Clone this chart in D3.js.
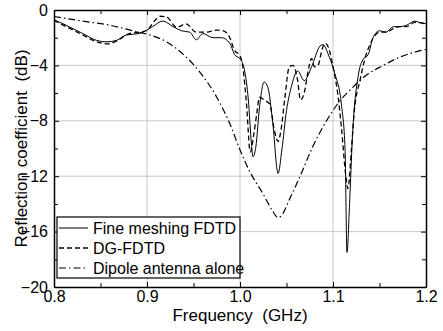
<!DOCTYPE html>
<html>
<head>
<meta charset="utf-8">
<script src="https://cdn.jsdelivr.net/npm/d3@7"></script>
<style>
  body { margin: 0; background: #fff; }
  text { font-family: Arial, "Liberation Sans", sans-serif; fill: #000; }
</style>
</head>
<body>
<div id="chart"></div>
<script>
// frequency (GHz) / reflection coefficient (dB)
const fineFreq = [0.8,0.813,0.831,0.846,0.856,0.867,0.878,0.892,0.906,0.917,0.928,0.937,0.946,0.953,0.960,0.971,0.980,0.989,0.994,1.001,1.005,1.009,1.012,1.014,1.017,1.021,1.026,1.030,1.035,1.041,1.045,1.050,1.055,1.062,1.069,1.077,1.086,1.089,1.096,1.102,1.109,1.113,1.115,1.118,1.121,1.127,1.132,1.138,1.143,1.150,1.157,1.165,1.172,1.179,1.188,1.193,1.2];
const fineDb = [-0.7,-1.1,-1.7,-2.2,-2.3,-2.2,-1.8,-1.7,-1.2,-0.8,-1.2,-1.5,-1.6,-2.15,-1.7,-2.0,-2.0,-2.4,-3.2,-3.6,-4.4,-6.5,-9.4,-10.6,-9.9,-7.0,-5.2,-5.6,-8.0,-11.8,-10.1,-7.25,-5.6,-4.4,-5.1,-4.1,-2.6,-2.5,-3.4,-4.6,-6.8,-10.1,-17.5,-13.7,-9.0,-4.8,-3.6,-3.2,-2.0,-1.5,-1.6,-1.2,-1.2,-1.1,-0.8,-0.9,-1.0];

const dgFreq = [0.8,0.813,0.831,0.846,0.858,0.867,0.881,0.892,0.899,0.910,0.914,0.921,0.932,0.942,0.953,0.964,0.975,0.982,0.989,0.994,1.000,1.003,1.007,1.011,1.015,1.018,1.021,1.026,1.032,1.037,1.041,1.044,1.048,1.053,1.057,1.062,1.065,1.069,1.073,1.077,1.080,1.084,1.087,1.091,1.094,1.096,1.100,1.105,1.109,1.114,1.116,1.120,1.123,1.129,1.134,1.140,1.145,1.150,1.157,1.165,1.172,1.179,1.188,1.2];
const dgDb = [-0.75,-1.2,-1.8,-2.3,-2.45,-2.25,-1.7,-1.6,-1.5,-0.65,-0.45,-0.5,-1.25,-1.0,-1.6,-1.6,-1.45,-1.5,-2.0,-2.9,-3.3,-4.1,-6.8,-10.25,-8.9,-7.5,-6.3,-6.5,-6.8,-8.7,-9.5,-8.7,-6.5,-4.1,-4.0,-5.1,-6.5,-6.0,-4.5,-3.5,-4.1,-4.0,-3.2,-2.4,-2.55,-2.9,-4.1,-6.0,-8.45,-12.1,-12.9,-9.9,-7.25,-5.1,-3.6,-2.45,-1.85,-1.6,-1.6,-1.35,-1.2,-1.2,-0.9,-1.0];

const dipoleFreq = [0.8,0.831,0.86,0.885,0.903,0.921,0.939,0.957,0.975,0.989,1.0,1.010,1.025,1.035,1.041,1.046,1.053,1.064,1.078,1.093,1.107,1.121,1.136,1.154,1.172,1.190,1.2];
const dipoleDb = [-0.47,-0.8,-1.1,-1.5,-1.8,-2.3,-3.2,-4.5,-6.3,-8.2,-10.1,-11.6,-13.3,-14.5,-15.0,-14.7,-13.7,-12.1,-9.9,-8.0,-6.6,-5.6,-4.7,-4.0,-3.4,-3.0,-2.85];

const xTicks = [0.8, 0.9, 1.0, 1.1, 1.2];
const xTickLabels = ["0.8", "0.9", "1.0", "1.1", "1.2"];
const yTicks = [0, -4, -8, -12, -16, -20];
const seriesNames = ["Fine meshing FDTD", "DG-FDTD", "Dipole antenna alone"];

const width = 443, height = 331;
const margin = {top: 10, right: 17, bottom: 44, left: 54};

const svg = d3.select("#chart").append("svg")
  .attr("width", width).attr("height", height);

const x = d3.scaleLinear().domain([0.8, 1.2]).range([margin.left, width - margin.right]);
const y = d3.scaleLinear().domain([-20, 0]).range([height - margin.bottom, margin.top]);

// grid
svg.append("g").selectAll("line")
  .data(xTicks.slice(1, -1))
  .join("line")
  .attr("x1", d => x(d)).attr("x2", d => x(d))
  .attr("y1", y(0)).attr("y2", y(-20))
  .attr("stroke", "#c8c8c8").attr("stroke-width", 1);
svg.append("g").selectAll("line")
  .data(yTicks.slice(1, -1))
  .join("line")
  .attr("x1", x(0.8)).attr("x2", x(1.2))
  .attr("y1", d => y(d)).attr("y2", d => y(d))
  .attr("stroke", "#c8c8c8").attr("stroke-width", 1);

// series
const series = [
  {f: fineFreq, v: fineDb, dash: null, w: 1},
  {f: dgFreq, v: dgDb, dash: "5,3", w: 1.3},
  {f: dipoleFreq, v: dipoleDb, dash: "7,3,1.5,3", w: 1.2}
];
const line = d3.line().x(d => x(d[0])).y(d => y(d[1])).curve(d3.curveMonotoneX);
svg.append("g").selectAll("path")
  .data(series)
  .join("path")
  .attr("d", s => line(s.f.map((f, i) => [f, s.v[i]])))
  .attr("fill", "none")
  .attr("stroke", "#000")
  .attr("stroke-width", s => s.w)
  .attr("stroke-dasharray", s => s.dash);

// axes (inward ticks on all four sides)
const minorX = d3.range(0.85, 1.2, 0.1);
const minorY = d3.range(-2, -20, -4);
const axisG = svg.append("g");
const tickSets = [
  {axis: d3.axisBottom(x).tickValues(xTicks).tickFormat((d, i) => xTickLabels[i]), t: `translate(0,${y(-20)})`, minor: d3.axisBottom(x).tickValues(minorX).tickFormat("")},
  {axis: d3.axisTop(x).tickValues(xTicks).tickFormat(""), t: `translate(0,${y(0)})`, minor: d3.axisTop(x).tickValues(minorX).tickFormat("")},
  {axis: d3.axisLeft(y).tickValues(yTicks).tickFormat(d3.format("d")), t: `translate(${x(0.8)},0)`, minor: d3.axisLeft(y).tickValues(minorY).tickFormat("")},
  {axis: d3.axisRight(y).tickValues(yTicks).tickFormat(""), t: `translate(${x(1.2)},0)`, minor: d3.axisRight(y).tickValues(minorY).tickFormat("")}
];
tickSets.forEach((s, k) => {
  const g = axisG.append("g").attr("transform", s.t)
    .call(s.axis.tickSizeInner(-5).tickSizeOuter(0).tickPadding(k === 0 ? 4 : 6));
  g.select(".domain").attr("stroke-width", 1.5);
  g.selectAll("text").attr("font-size", 16).style("font-family", "Arial, 'Liberation Sans', sans-serif");
  const m = axisG.append("g").attr("transform", s.t)
    .call(s.minor.tickSizeInner(-4).tickSizeOuter(0));
  m.select(".domain").remove();
});
axisG.selectAll("g").selectAll(".tick line").attr("stroke-width", 1);

// axis titles
svg.append("text")
  .attr("x", (x(0.8) + x(1.2)) / 2).attr("y", 321)
  .attr("text-anchor", "middle").attr("font-size", 17)
  .attr("xml:space", "preserve")
  .text("Frequency  (GHz)");
svg.append("text")
  .attr("transform", `translate(27,${(y(0) + y(-20)) / 2}) rotate(-90)`)
  .attr("text-anchor", "middle").attr("font-size", 17)
  .attr("xml:space", "preserve")
  .text("Reflection coefficient  (dB)");

// legend
const lg = svg.append("g").attr("transform", "translate(57,217)");
lg.append("rect").attr("width", 183).attr("height", 61)
  .attr("fill", "#fff").attr("stroke", "#000").attr("stroke-width", 1.2);
const rows = lg.selectAll("g").data(series).join("g")
  .attr("transform", (d, i) => `translate(0,${11 + i * 20})`);
rows.append("line").attr("x1", 2).attr("x2", 31)
  .attr("stroke", "#000").attr("stroke-width", d => d.w)
  .attr("stroke-dasharray", d => d.dash);
rows.append("text").attr("x", 36).attr("y", 6).attr("font-size", 16)
  .text((d, i) => seriesNames[i]);
</script>
</body>
</html>
